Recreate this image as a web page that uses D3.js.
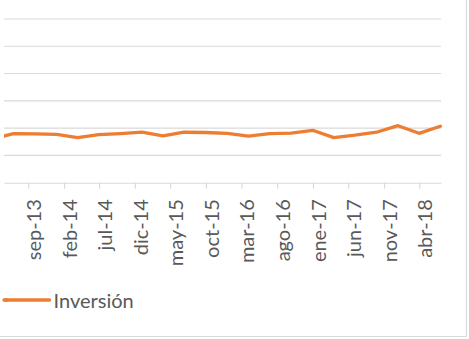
<!DOCTYPE html>
<html>
<head>
<meta charset="utf-8">
<script src="https://cdn.jsdelivr.net/npm/d3@7"></script>
<style>
  html, body { margin: 0; padding: 0; background: #fff; }
  svg { display: block; }
  text { font-family: Lato, "Open Sans", sans-serif; fill: #595959; }
</style>
</head>
<body>
<svg id="chart" width="469" height="339"></svg>
<script>
// Quarterly series (end of quarter), "Inversión"
const quarters = ["mar-13","jun-13","sep-13","dic-13","mar-14","jun-14","sep-14","dic-14",
                  "mar-15","jun-15","sep-15","dic-15","mar-16","jun-16","sep-16","dic-16",
                  "mar-17","jun-17","sep-17","dic-17","mar-18","jun-18"];
const inversion = [8.0, 9.0, 8.95, 8.85, 8.25, 8.8, 9.0, 9.25,
                   8.6, 9.25, 9.2, 9.05, 8.55, 9.0, 9.1, 9.6,
                   8.25, 8.7, 9.25, 10.45, 9.05, 10.35];
// Axis labels every five months
const tickLabels = ["sep-13","feb-14","jul-14","dic-14","may-15","oct-15",
                    "mar-16","ago-16","ene-17","jun-17","nov-17","abr-18"];
const yTicks = [0, 5, 10, 15, 20, 25, 30];
const seriesName = "Inversión";

const monthNames = ["ene","feb","mar","abr","may","jun","jul","ago","sep","oct","nov","dic"];
function monthStart(lbl) {
  const [m, yy] = lbl.split("-");
  return new Date(2000 + +yy, monthNames.indexOf(m), 1);
}
function quarterEnd(lbl) {
  const [m, yy] = lbl.split("-");
  return new Date(2000 + +yy, monthNames.indexOf(m) + 1, 0);
}

const svg = d3.select("#chart");
const plot = { left: 4, right: 441, top: 19, bottom: 182.7 };
const orange = "#ED7D31";
const grid = "#D9D9D9";

// Time scale: month boundaries for sep-13 and abr-18 anchored, then widened to the plot
const x = d3.scaleTime()
  .domain([monthStart("sep-13"), monthStart("abr-18")])
  .range([28.3, 419.3]);
x.domain([x.invert(plot.left), x.invert(plot.right)]).range([plot.left, plot.right]);

const y = d3.scaleLinear().domain([0, 30]).range([plot.bottom, plot.top]);

// Horizontal gridlines
svg.append("g").selectAll("line")
  .data(yTicks.slice(1))
  .join("line")
  .attr("x1", plot.left).attr("x2", plot.right)
  .attr("y1", d => y(d)).attr("y2", d => y(d))
  .attr("stroke", grid).attr("stroke-width", 1.1);

// Category axis
const xAxis = d3.axisBottom(x)
  .tickValues(tickLabels.map(monthStart))
  .tickFormat((d, i) => tickLabels[i])
  .tickSizeInner(6).tickSizeOuter(0).tickPadding(0);

const gx = svg.append("g").attr("transform", `translate(0,${plot.bottom})`).call(xAxis);
gx.select(".domain").attr("stroke", grid).attr("stroke-width", 1.1);
gx.selectAll(".tick line").attr("stroke", grid).attr("stroke-width", 1.1);
gx.selectAll(".tick text")
  .attr("fill", "#595959")
  .style("font-size", "20px")
  .attr("text-anchor", "end")
  .attr("dy", null)
  .attr("y", 0)
  .attr("transform", "translate(12.5,16.5) rotate(-90)");

// Series line, clipped to the plot area
svg.append("clipPath").attr("id", "plotClip")
  .append("rect")
  .attr("x", plot.left).attr("y", 0)
  .attr("width", plot.right - plot.left + 2).attr("height", plot.bottom);

const line = d3.line()
  .x((d, i) => x(quarterEnd(quarters[i])))
  .y(d => y(d));

svg.append("path")
  .datum(inversion)
  .attr("clip-path", "url(#plotClip)")
  .attr("d", line)
  .attr("fill", "none")
  .attr("stroke", orange)
  .attr("stroke-width", 3.3)
  .attr("stroke-linejoin", "round")
  .attr("stroke-linecap", "round");

// Legend
const lg = svg.append("g");
lg.append("line")
  .attr("x1", 4).attr("x2", 49.5)
  .attr("y1", 300).attr("y2", 300)
  .attr("stroke", orange).attr("stroke-width", 3.3)
  .attr("stroke-linecap", "round");
lg.append("line")
  .attr("x1", 4).attr("x2", 8)
  .attr("y1", 300).attr("y2", 300)
  .attr("stroke", orange).attr("stroke-width", 3.3);
lg.append("text")
  .attr("x", 53.5).attr("y", 308)
  .style("font-size", "20px")
  .text(seriesName);

// Chart frame edges
svg.append("line").attr("x1", 466.5).attr("x2", 466.5).attr("y1", 0).attr("y2", 336.5)
  .attr("stroke", grid).attr("stroke-width", 1.2);
svg.append("line").attr("x1", 0).attr("x2", 466.5).attr("y1", 336.5).attr("y2", 336.5)
  .attr("stroke", grid).attr("stroke-width", 1.2);
</script>
</body>
</html>
